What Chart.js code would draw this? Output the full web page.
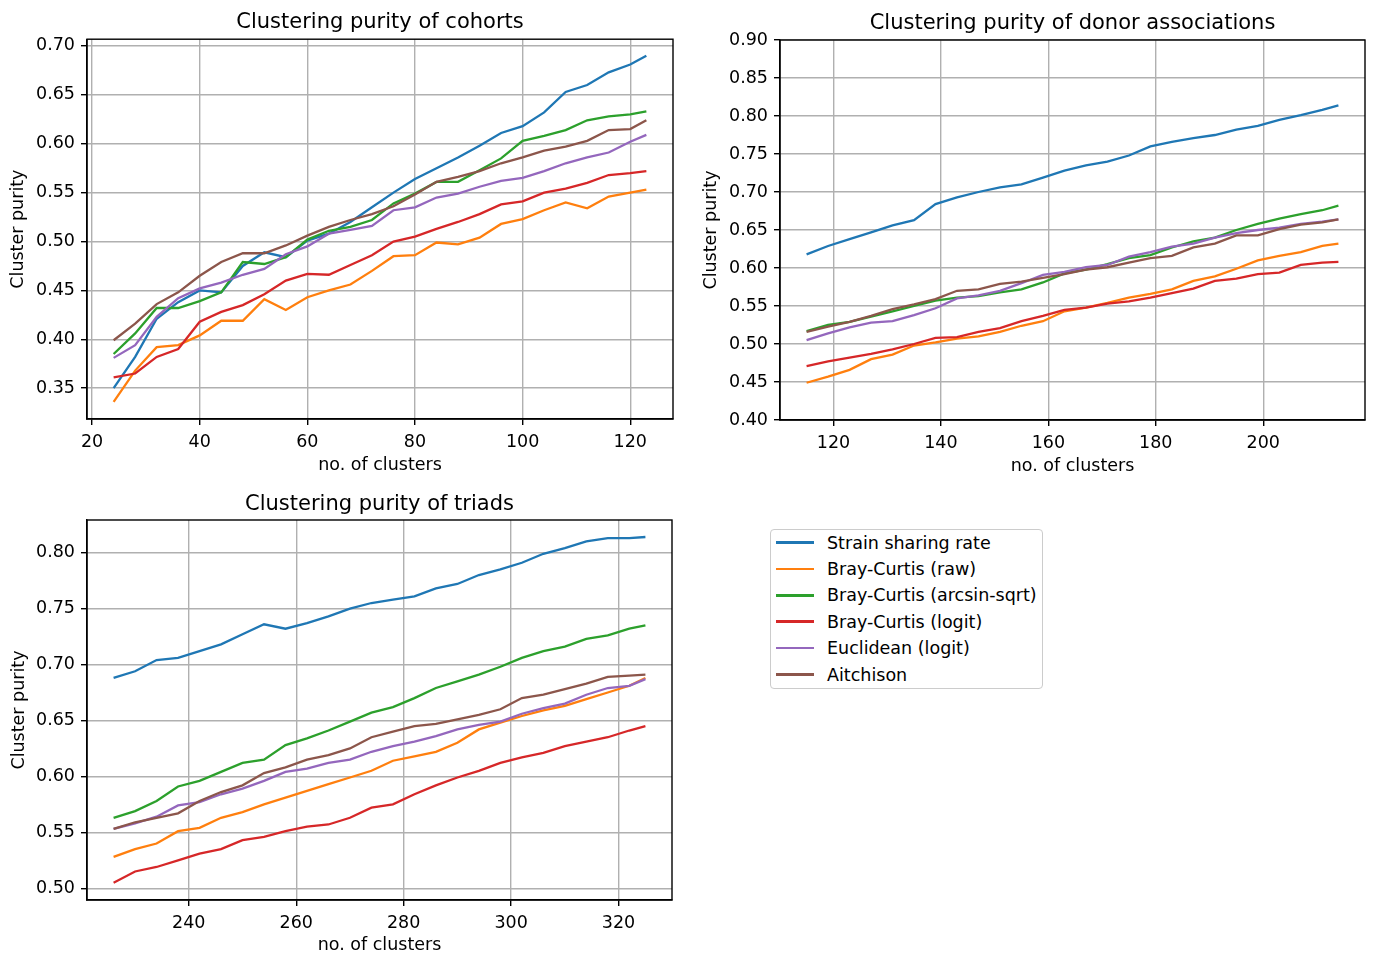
<!DOCTYPE html>
<html>
<head>
<meta charset="utf-8">
<script src="https://cdn.jsdelivr.net/npm/chart.js@4.4.1/dist/chart.umd.min.js"></script>
<style>
  body { margin: 0; background: #fff; width: 1375px; height: 954px; position: relative; overflow: hidden; font-family: 'DejaVu Sans', sans-serif; }
  canvas { position: absolute; }
  #legend { position: absolute; left: 770px; top: 529px; width: 271px; height: 158px; border: 1px solid #cccccc; border-radius: 4px; background: #fff; }
  .row { position: absolute; left: 0; height: 26px; display: flex; align-items: center; font-size: 17.5px; color: #000; white-space: nowrap; }
  .swatch { width: 38px; height: 2.5px; margin-left: 5px; margin-right: 13px; }
</style>
</head>
<body>
<canvas id="cohorts" width="690" height="480" style="left:0;top:0"></canvas>
<canvas id="donor" width="685" height="480" style="left:690px;top:0"></canvas>
<canvas id="triads" width="690" height="474" style="left:0;top:480px"></canvas>
<div id="legend"></div>

<script>
// series shared by all three panels
const seriesNames = ['Strain sharing rate', 'Bray-Curtis (raw)', 'Bray-Curtis (arcsin-sqrt)', 'Bray-Curtis (logit)', 'Euclidean (logit)', 'Aitchison'];
const seriesColors = ['#1f77b4', '#ff7f0e', '#2ca02c', '#d62728', '#9467bd', '#8c564b'];

// Clustering purity of cohorts
const cohortsX = [24, 28, 32, 36, 40, 44, 48, 52, 56, 60, 64, 68, 72, 76, 80, 84, 88, 92, 96, 100, 104, 108, 112, 116, 120, 123];
const cohortsStrain = [0.350, 0.382, 0.421, 0.438, 0.450, 0.448, 0.475, 0.489, 0.484, 0.501, 0.508, 0.520, 0.535, 0.550, 0.564, 0.575, 0.586, 0.598, 0.611, 0.618, 0.632, 0.653, 0.660, 0.673, 0.681, 0.690];
const cohortsRaw = [0.336, 0.368, 0.392, 0.394, 0.404, 0.419, 0.419, 0.441, 0.430, 0.443, 0.450, 0.456, 0.470, 0.485, 0.486, 0.499, 0.497, 0.504, 0.518, 0.523, 0.532, 0.540, 0.534, 0.546, 0.550, 0.553];
const cohortsArcsin = [0.385, 0.406, 0.432, 0.432, 0.439, 0.448, 0.479, 0.477, 0.484, 0.502, 0.511, 0.515, 0.522, 0.539, 0.549, 0.561, 0.561, 0.573, 0.585, 0.603, 0.608, 0.614, 0.624, 0.628, 0.630, 0.633];
const cohortsLogit = [0.361, 0.365, 0.382, 0.390, 0.418, 0.428, 0.435, 0.446, 0.460, 0.467, 0.466, 0.476, 0.486, 0.500, 0.505, 0.513, 0.520, 0.528, 0.538, 0.541, 0.550, 0.554, 0.560, 0.568, 0.570, 0.572];
const cohortsEuclid = [0.381, 0.394, 0.423, 0.442, 0.452, 0.458, 0.466, 0.472, 0.487, 0.495, 0.508, 0.512, 0.516, 0.532, 0.535, 0.545, 0.549, 0.556, 0.562, 0.565, 0.572, 0.580, 0.586, 0.591, 0.602, 0.609];
const cohortsAitchison = [0.399, 0.416, 0.436, 0.448, 0.465, 0.479, 0.488, 0.488, 0.496, 0.506, 0.515, 0.522, 0.528, 0.536, 0.548, 0.561, 0.566, 0.572, 0.580, 0.586, 0.593, 0.597, 0.603, 0.614, 0.615, 0.624];
const cohortsXTicks = [20, 40, 60, 80, 100, 120];
const cohortsYTicks = [0.35, 0.40, 0.45, 0.50, 0.55, 0.60, 0.65, 0.70];

// Clustering purity of donor associations
const donorX = [115, 119, 123, 127, 131, 135, 139, 143, 147, 151, 155, 159, 163, 167, 171, 175, 179, 183, 187, 191, 195, 199, 203, 207, 211, 214];
const donorStrain = [0.618, 0.629, 0.638, 0.647, 0.656, 0.663, 0.684, 0.693, 0.700, 0.706, 0.710, 0.719, 0.728, 0.735, 0.740, 0.748, 0.760, 0.766, 0.771, 0.775, 0.782, 0.787, 0.795, 0.801, 0.808, 0.814];
const donorRaw = [0.449, 0.457, 0.466, 0.480, 0.486, 0.498, 0.502, 0.507, 0.510, 0.516, 0.524, 0.530, 0.543, 0.548, 0.554, 0.561, 0.566, 0.572, 0.583, 0.589, 0.599, 0.610, 0.616, 0.621, 0.629, 0.632];
const donorArcsin = [0.517, 0.525, 0.529, 0.536, 0.543, 0.550, 0.557, 0.561, 0.563, 0.568, 0.572, 0.581, 0.593, 0.598, 0.605, 0.613, 0.617, 0.627, 0.635, 0.640, 0.650, 0.658, 0.665, 0.671, 0.676, 0.682];
const donorLogit = [0.471, 0.477, 0.482, 0.487, 0.493, 0.500, 0.508, 0.509, 0.516, 0.521, 0.530, 0.537, 0.545, 0.548, 0.553, 0.556, 0.561, 0.567, 0.573, 0.583, 0.586, 0.592, 0.594, 0.604, 0.607, 0.608];
const donorEuclid = [0.505, 0.514, 0.522, 0.528, 0.530, 0.538, 0.547, 0.560, 0.564, 0.570, 0.580, 0.591, 0.595, 0.601, 0.604, 0.615, 0.621, 0.628, 0.632, 0.640, 0.646, 0.650, 0.653, 0.658, 0.661, 0.664];
const donorAitchison = [0.516, 0.523, 0.529, 0.537, 0.546, 0.552, 0.559, 0.570, 0.572, 0.579, 0.582, 0.587, 0.592, 0.598, 0.601, 0.607, 0.613, 0.616, 0.627, 0.632, 0.643, 0.643, 0.651, 0.657, 0.660, 0.664];
const donorXTicks = [120, 140, 160, 180, 200];
const donorYTicks = [0.40, 0.45, 0.50, 0.55, 0.60, 0.65, 0.70, 0.75, 0.80, 0.85, 0.90];

// Clustering purity of triads
const triadsX = [226, 230, 234, 238, 242, 246, 250, 254, 258, 262, 266, 270, 274, 278, 282, 286, 290, 294, 298, 302, 306, 310, 314, 318, 322, 325];
const triadsStrain = [0.688, 0.694, 0.704, 0.706, 0.712, 0.718, 0.727, 0.736, 0.732, 0.737, 0.743, 0.750, 0.755, 0.758, 0.761, 0.768, 0.772, 0.780, 0.785, 0.791, 0.799, 0.804, 0.810, 0.813, 0.813, 0.814];
const triadsRaw = [0.528, 0.535, 0.540, 0.551, 0.554, 0.563, 0.568, 0.575, 0.581, 0.587, 0.593, 0.599, 0.605, 0.614, 0.618, 0.622, 0.630, 0.642, 0.648, 0.654, 0.659, 0.663, 0.669, 0.675, 0.681, 0.688];
const triadsArcsin = [0.563, 0.569, 0.578, 0.591, 0.596, 0.604, 0.612, 0.615, 0.628, 0.634, 0.641, 0.649, 0.657, 0.662, 0.670, 0.679, 0.685, 0.691, 0.698, 0.706, 0.712, 0.716, 0.723, 0.726, 0.732, 0.735];
const triadsLogit = [0.505, 0.515, 0.519, 0.525, 0.531, 0.535, 0.543, 0.546, 0.551, 0.555, 0.557, 0.563, 0.572, 0.575, 0.584, 0.592, 0.599, 0.605, 0.612, 0.617, 0.621, 0.627, 0.631, 0.635, 0.641, 0.645];
const triadsEuclid = [0.553, 0.558, 0.564, 0.574, 0.577, 0.584, 0.589, 0.596, 0.604, 0.607, 0.612, 0.615, 0.622, 0.627, 0.631, 0.636, 0.642, 0.646, 0.649, 0.656, 0.661, 0.665, 0.673, 0.679, 0.681, 0.687];
const triadsAitchison = [0.553, 0.559, 0.563, 0.567, 0.578, 0.586, 0.592, 0.603, 0.608, 0.615, 0.619, 0.625, 0.635, 0.640, 0.645, 0.647, 0.651, 0.655, 0.660, 0.670, 0.673, 0.678, 0.683, 0.689, 0.690, 0.691];
const triadsXTicks = [240, 260, 280, 300, 320];
const triadsYTicks = [0.50, 0.55, 0.60, 0.65, 0.70, 0.75, 0.80];

const FONT = 'DejaVu Sans';
Chart.defaults.font.family = FONT;
Chart.defaults.color = '#000';

// black box round the plot area, like matplotlib's four spines
const spines = {
    id: 'spines',
    afterDraw(chart) {
        const a = chart.chartArea, ctx = chart.ctx;
        ctx.save();
        ctx.strokeStyle = '#000';
        ctx.lineWidth = 1.4;
        ctx.strokeRect(a.left, a.top, a.right - a.left, a.bottom - a.top);
        ctx.restore();
    }
};

function drawPanel(id, title, xs, series, xRange, yRange, xTicks, yTicks, lay) {
    return new Chart(document.getElementById(id), {
        type: 'line',
        data: {
            datasets: series.map((ys, i) => ({
                label: seriesNames[i],
                data: xs.map((x, j) => ({ x: x, y: ys[j] })),
                borderColor: seriesColors[i],
                backgroundColor: seriesColors[i],
                borderWidth: 2.3,
                pointRadius: 0,
                tension: 0,
                fill: false,
                order: series.length - i
            }))
        },
        options: {
            responsive: false,
            animation: false,
            events: [],
            layout: { padding: { left: 0, right: lay.right, top: 0, bottom: 0 } },
            plugins: {
                legend: { display: false },
                tooltip: { enabled: false },
                title: {
                    display: true,
                    text: title,
                    fullSize: false,
                    color: '#000',
                    font: { family: FONT, size: 21, weight: 'normal', lineHeight: 1.2 },
                    padding: { top: lay.titleTop, bottom: lay.titleBottom }
                }
            },
            scales: {
                x: {
                    type: 'linear',
                    min: xRange[0],
                    max: xRange[1],
                    afterBuildTicks: s => { s.ticks = xTicks.map(v => ({ value: v })); },
                    afterFit: s => { s.height = lay.xHeight; },
                    grid: { color: '#b0b0b0', lineWidth: 1.4, tickColor: '#000', tickLength: 6, tickWidth: 1.4 },
                    border: { color: '#000', width: 1.4 },
                    ticks: { color: '#000', font: { family: FONT, size: 17.5 }, padding: 7, maxRotation: 0, callback: v => String(v) },
                    title: { display: true, text: 'no. of clusters', color: '#000', font: { family: FONT, size: 17.5, lineHeight: 1.2 }, padding: { top: 0, bottom: lay.xTitleBottom } }
                },
                y: {
                    type: 'linear',
                    min: yRange[0],
                    max: yRange[1],
                    afterBuildTicks: s => { s.ticks = yTicks.map(v => ({ value: v })); },
                    afterFit: s => { s.width = lay.yWidth; },
                    grid: { color: '#b0b0b0', lineWidth: 1.4, tickColor: '#000', tickLength: 6, tickWidth: 1.4 },
                    border: { color: '#000', width: 1.4 },
                    ticks: { color: '#000', font: { family: FONT, size: 17.5 }, padding: 6, callback: v => v.toFixed(2) },
                    title: { display: true, text: 'Cluster purity', color: '#000', font: { family: FONT, size: 17.5, lineHeight: 1.2 }, padding: { top: lay.yTitleTop, bottom: 0 } }
                }
            }
        },
        plugins: [spines]
    });
}

drawPanel('cohorts', 'Clustering purity of cohorts', cohortsX,
    [cohortsStrain, cohortsRaw, cohortsArcsin, cohortsLogit, cohortsEuclid, cohortsAitchison],
    [19.05, 127.95], [0.3185, 0.7069], cohortsXTicks, cohortsYTicks,
    { right: 17, yWidth: 87, xHeight: 61, titleTop: 10.4, titleBottom: 3.6, xTitleBottom: 4.5, yTitleTop: 7.8 });

drawPanel('donor', 'Clustering purity of donor associations', donorX,
    [donorStrain, donorRaw, donorArcsin, donorLogit, donorEuclid, donorAitchison],
    [110.05, 218.95], [0.40, 0.90], donorXTicks, donorYTicks,
    { right: 10, yWidth: 90, xHeight: 60, titleTop: 11.4, titleBottom: 3.4, xTitleBottom: 3.5, yTitleTop: 11.2 });

drawPanel('triads', 'Clustering purity of triads', triadsX,
    [triadsStrain, triadsRaw, triadsArcsin, triadsLogit, triadsEuclid, triadsAitchison],
    [221.05, 329.95], [0.4895, 0.8292], triadsXTicks, triadsYTicks,
    { right: 18, yWidth: 87, xHeight: 54, titleTop: 12.4, titleBottom: 2.4, xTitleBottom: -1.5, yTitleTop: 8.5 });

// Legend in the empty bottom-right slot
const legend = document.getElementById('legend');
seriesNames.forEach((name, i) => {
    const row = document.createElement('div');
    row.className = 'row';
    row.style.top = (-0.5 + i * 26.4) + 'px';
    row.innerHTML = `<span class="swatch" style="background:${seriesColors[i]}"></span><span>${name}</span>`;
    legend.appendChild(row);
});
</script>
</body>
</html>
